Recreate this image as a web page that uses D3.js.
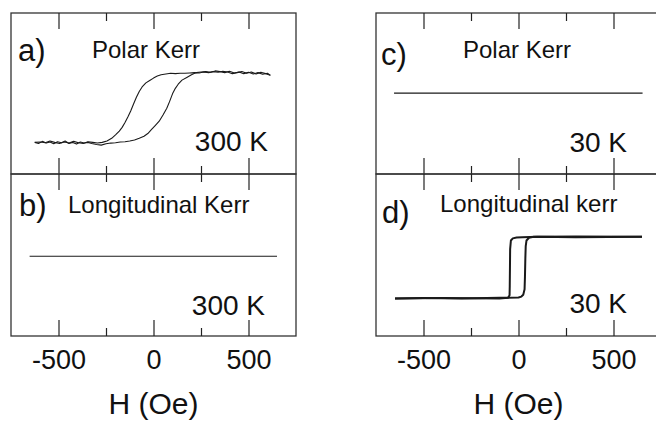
<!DOCTYPE html>
<html>
<head>
<meta charset="UTF-8">
<script src="https://cdn.jsdelivr.net/npm/d3@7"></script>
<style>
  body { margin: 0; background: #fff; }
  text { font-family: "Liberation Sans", Arial, sans-serif; fill: #111; }
</style>
</head>
<body>
<script>
// field axis
const hDomain = [-750, 750]
const hMajor = [-500, 0, 500]
const hMinor = [-250, 250]

// a) polar Kerr, 300 K  [H (Oe), signal]
const polar300Up = [
  [-625, -1.02], [-605, -1.05], [-585, -0.99], [-565, -1.04], [-545, -1.01], [-525, -1.06],
  [-505, -1.00], [-485, -1.03], [-465, -0.98], [-445, -1.05], [-425, -1.02], [-405, -1.07],
  [-385, -1.01], [-365, -1.04], [-345, -1.02], [-325, -1.05], [-300, -1.08], [-275, -1.10],
  [-250, -1.06], [-225, -1.04], [-200, -1.03], [-175, -1.01], [-150, -1.00], [-125, -0.98],
  [-100, -0.95], [-75, -0.90], [-50, -0.84], [-30, -0.76], [-10, -0.64], [10, -0.52],
  [30, -0.40], [50, -0.22], [70, -0.02], [85, 0.18], [100, 0.40], [115, 0.56], [130, 0.68],
  [150, 0.80], [175, 0.88], [200, 0.96], [225, 1.02], [250, 1.04], [275, 1.05], [300, 1.03],
  [325, 1.07], [350, 1.05], [375, 1.02], [400, 1.06], [425, 1.01], [450, 1.04], [475, 0.99],
  [500, 1.03], [525, 0.98], [550, 1.02], [575, 0.97], [600, 1.00], [615, 0.94]
]
const polar300Down = [
  [615, 0.94], [590, 0.99], [565, 1.03], [540, 0.98], [515, 1.04], [490, 1.00], [465, 1.05],
  [440, 1.02], [415, 0.99], [390, 1.04], [365, 1.06], [340, 1.03], [315, 1.05], [290, 1.02],
  [265, 1.04], [240, 1.01], [215, 1.02], [190, 1.01], [165, 1.00], [140, 1.00], [115, 0.99],
  [90, 1.00], [65, 0.98], [40, 0.96], [20, 0.92], [0, 0.86], [-20, 0.79], [-40, 0.72],
  [-60, 0.60], [-75, 0.47], [-90, 0.30], [-105, 0.10], [-120, -0.10], [-135, -0.28],
  [-150, -0.44], [-165, -0.58], [-180, -0.69], [-200, -0.80], [-220, -0.90], [-245, -0.98],
  [-270, -1.02], [-295, -1.04], [-320, -1.02], [-345, -1.00], [-370, -1.05], [-395, -1.03],
  [-420, -0.99], [-445, -1.04], [-470, -1.01], [-495, -1.05], [-520, -1.02], [-545, -0.98],
  [-570, -1.03], [-595, -1.01], [-625, -1.02]
]

// b) longitudinal Kerr, 300 K
const long300 = [[-652, 0.37], [650, 0.37]]

// c) polar Kerr, 30 K
const polar30 = [[-655, 0.42], [653, 0.42]]

// d) longitudinal Kerr, 30 K
const long30Up = [
  [-650, -1.00], [-500, -0.99], [-300, -1.00], [-100, -0.98], [0, -0.97], [15, -0.94],
  [25, -0.88], [32, -0.70], [34, -0.30], [36, 0.30], [38, 0.70], [42, 0.88], [55, 0.97],
  [80, 1.00], [300, 1.01], [650, 1.00]
]
const long30Down = [
  [650, 1.00], [300, 0.99], [100, 1.00], [20, 0.99], [-10, 0.98], [-30, 0.95], [-40, 0.88],
  [-44, 0.60], [-45, 0.00], [-46, -0.60], [-47, -0.90], [-55, -0.98], [-100, -1.00],
  [-400, -0.99], [-650, -1.00]
]

const width = 656, height = 423

const cols = [{ x0: 11, x1: 296 }, { x0: 376, x1: 661 }]
const rows = [
  { y0: 13, y1: 174, domain: [-1.944, 2.763] },
  { y0: 174, y1: 336, domain: [-2.22, 3.04] }
]

const panels = [
  { col: 0, row: 0, letter: 'a)', lx: 18, ly: 61, title: 'Polar Kerr', tx: 92, ty: 58,
    temp: '300 K', kx: 268, ky: 151, lines: [polar300Up, polar300Down], sw: 1.1 },
  { col: 0, row: 1, letter: 'b)', lx: 19, ly: 216, title: 'Longitudinal Kerr', tx: 68, ty: 213,
    temp: '300 K', kx: 265, ky: 315, lines: [long300], sw: 1.2 },
  { col: 1, row: 0, letter: 'c)', lx: 381, ly: 65, title: 'Polar Kerr', tx: 463, ty: 58,
    temp: '30 K', kx: 627, ky: 152, lines: [polar30], sw: 1.2 },
  { col: 1, row: 1, letter: 'd)', lx: 382, ly: 223, title: 'Longitudinal kerr', tx: 440, ty: 212,
    temp: '30 K', kx: 627, ky: 313, lines: [long30Up, long30Down], sw: 2 }
]

const svg = d3.select('body')
  .append('svg')
  .attr('width', width)
  .attr('height', height)

const xScales = cols.map(c => d3.scaleLinear().domain(hDomain).range([c.x0, c.x1]))

panels.forEach(p => {
  const c = cols[p.col], r = rows[p.row]
  const x = xScales[p.col]
  const y = d3.scaleLinear().domain(r.domain).range([r.y1, r.y0])
  const g = svg.append('g')

  g.append('rect')
    .attr('x', c.x0).attr('y', r.y0)
    .attr('width', c.x1 - c.x0).attr('height', r.y1 - r.y0)
    .attr('fill', 'none').attr('stroke', '#333').attr('stroke-width', 1.3)

  // inward ticks on top and bottom edges
  const edges = [
    { y: r.y0, axis: d3.axisTop },
    { y: r.y1, axis: d3.axisBottom }
  ]
  edges.forEach(e => {
    [[hMajor, 16], [hMinor, 8]].forEach(([vals, len]) => {
      const a = g.append('g')
        .attr('transform', 'translate(0,' + e.y + ')')
        .call(e.axis(x).tickValues(vals).tickSizeInner(-len).tickSizeOuter(0).tickFormat(''))
      a.select('.domain').remove()
      a.selectAll('line').attr('stroke', '#222').attr('stroke-width', 1.2)
    })
  })

  const line = d3.line()
    .x(d => x(d[0]))
    .y(d => y(d[1]))

  p.lines.forEach(l => {
    g.append('path')
      .datum(l)
      .attr('fill', 'none')
      .attr('stroke', '#1a1a1a')
      .attr('stroke-width', p.sw)
      .attr('stroke-linejoin', 'round')
      .attr('d', line)
  })

  g.append('text').attr('x', p.lx).attr('y', p.ly)
    .style('font-size', '31px').text(p.letter)
  g.append('text').attr('x', p.tx).attr('y', p.ty)
    .style('font-size', '24px').text(p.title)
  g.append('text').attr('x', p.kx).attr('y', p.ky)
    .attr('text-anchor', 'end')
    .style('font-size', '28px').text(p.temp)
})

// tick labels and axis titles under each column
xScales.forEach(x => {
  const a = svg.append('g')
    .attr('transform', 'translate(0,' + rows[1].y1 + ')')
    .call(d3.axisBottom(x).tickValues(hMajor).tickSize(0).tickPadding(14)
      .tickFormat(d => String(d)))
  a.select('.domain').remove()
  a.selectAll('text')
    .attr('fill', '#111')
    .style('font-family', '"Liberation Sans", Arial, sans-serif')
    .style('font-size', '27px')

  svg.append('text')
    .attr('x', x(0))
    .attr('y', 414)
    .attr('text-anchor', 'middle')
    .style('font-size', '30px')
    .text('H (Oe)')
})
</script>
</body>
</html>
